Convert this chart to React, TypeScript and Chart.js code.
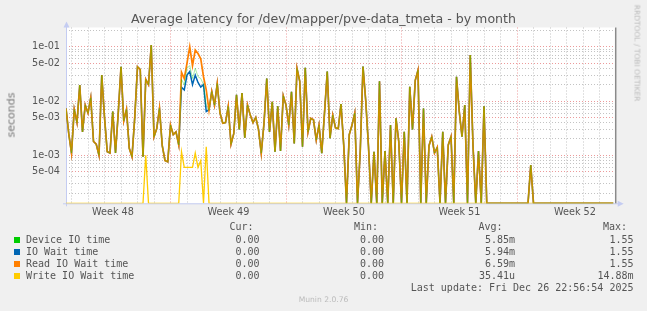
import React, { useEffect, useRef } from 'react';
import { Chart, registerables } from 'chart.js';

Chart.register(...registerables);

// ---- data (milliseconds, one sample every 4 hours) ----
const startDay = -6.345; // days relative to Mon 1 Dec (start of Week 49)
const stepDay = 1 / 6;

const readMs = [
  7.3, 2.5, 1.1, 7, 4, 19.7, 2.7, 8.4, 6, 11.5,
  1.8, 1.6, 1.0, 30, 5, 1.16, 1.1, 6.4, 1.1, 6,
  42.8, 4.3, 7, 1.35, 0.94, 5, 42.8, 38, 0.94, 25,
  20, 107, 2.2, 3.1, 7.3, 1.5, 0.8, 0.76, 3.6, 2.4,
  2.7, 1.55, 34, 26, 50, 100, 45, 87, 75, 60,
  28, 16, 6.8, 15, 8.4, 21, 6, 3.9, 4, 8,
  1.6, 2.5, 13, 3, 14, 2.1, 8.4, 5.5, 4, 5,
  3, 1.09, 3.9, 26, 2.7, 9.7, 1.16, 8, 1.2, 12.5,
  8.4, 3.6, 14.8, 1.66, 40, 23, 1.44, 41, 2.7, 4.8,
  4.5, 1.9, 3.6, 1.09, 6, 35, 2.06, 5.5, 3.2, 3.1,
  8.8, 1.5, 0, 2.4, 3.6, 6, 0, 1.2, 43, 10,
  1.44, 0, 1.16, 0, 23, 0, 1.2, 0, 3.6, 0,
  4.8, 1.8, 0, 2.7, 0, 18.3, 3, 24, 37, 0,
  7.3, 0, 1.5, 2.2, 1.1, 1.4, 0, 2.7, 0, 1.55,
  2.2, 0, 28, 6.4, 2.2, 8.4, 0, 70, 1.5, 0,
  1.2, 0, 8, 0, 0, 0, 0, 0, 0, 0,
  0, 0, 0, 0, 0, 0, 0, 0, 0, 0.66,
  0, 0, 0, 0, 0, 0, 0, 0, 0, 0,
  0, 0, 0, 0, 0, 0, 0, 0, 0, 0,
  0, 0, 0, 0, 0, 0, 0, 0, 0, 0,
];

// where IO wait and device time split off from read wait (samples 42..51)
const ioWaitBurst = [18, 16, 30, 35, 20, 30, 22, 18, 20, 6.4];
const deviceBurst = [25, 20, 40, 45, 26, 40, 28, 26, 20, 8];
const ioWaitMs = [...readMs.slice(0, 42), ...ioWaitBurst, ...readMs.slice(52)];
const deviceMs = [...readMs.slice(0, 42), ...deviceBurst, ...readMs.slice(52)];

const writeMs = [
  0, 0, 0, 0, 0, 0, 0, 0, 0, 0, 0, 0, 0, 0, 0, 0, 0, 0, 0, 0,
  0, 0, 0, 0, 0, 0, 0, 0, 0, 1.0, 0, 0, 0, 0, 0, 0, 0, 0, 0, 0,
  0, 0, 1.16, 0.6, 0.6, 0.6, 0.6, 1.1, 0.6, 0.8, 0, 1.44, 0, 0, 0, 0, 0, 0, 0, 0,
  0, 0, 0, 0, 0, 0, 0, 0, 0, 0, 0, 0, 0, 0, 0, 0, 0, 0, 0, 0,
  0, 0, 0, 0, 0, 0, 0, 0, 0, 0, 0, 0, 0, 0, 0, 0, 0, 0, 0, 0,
  0, 0, 0, 0, 0, 0, 0, 0, 0, 0, 0, 0, 0, 0, 0, 0, 0, 0, 0, 0,
  0, 0, 0, 0, 0, 0, 0, 0, 0, 0, 0, 0, 0, 0, 0, 0, 0, 0, 0, 0,
  0, 0, 0, 0, 0, 0, 0, 0, 0, 0, 0, 0, 0, 0, 0, 0, 0, 0, 0, 0,
  0, 0, 0, 0, 0, 0, 0, 0, 0, 0, 0, 0, 0, 0, 0, 0, 0, 0, 0, 0,
  0, 0, 0, 0, 0, 0, 0, 0, 0, 0, 0, 0, 0, 0, 0, 0, 0, 0, 0, 0,
];

const weekLabels = ['Week 48', 'Week 49', 'Week 50', 'Week 51', 'Week 52'];
const weekStartDays = [-7, 0, 7, 14, 21];

const seriesNames = ['Device IO time', 'IO Wait time', 'Read IO Wait time', 'Write IO Wait time'];
const seriesColors = ['#00CC00', '#0066B3', '#FF8000', '#FFCC00'];
const curVals = ['0.00', '0.00', '0.00', '0.00'];
const minVals = ['0.00', '0.00', '0.00', '0.00'];
const avgVals = ['5.85m', '5.94m', '6.59m', '35.41u'];
const maxVals = ['1.55', '1.55', '1.55', '14.88m'];

const titleText = 'Average latency for /dev/mapper/pve-data_tmeta - by month';
const lastUpdate = 'Last update: Fri Dec 26 22:56:54 2025';

// ---- layout ----
const W = 647;
const H = 311;
const xMin = -6.345;
const xMax = 26.97;
const yMin = 1.306e-4;
const yMax = 0.226;

const toPoints = (ms: number[]) =>
  ms.map((v, i) => ({ x: startDay + i * stepDay, y: v === 0 ? yMin : v / 1000 }));

const fmtExp = (v: number) => {
  const e = Math.floor(Math.log10(v) + 1e-9);
  const m = Math.round(v / Math.pow(10, e));
  return `${m}e-${String(-e).padStart(2, '0')}`;
};
const mantissa = (v: number) => {
  const e = Math.floor(Math.log10(v) + 1e-9);
  return Math.round(v / Math.pow(10, e));
};

const framePlugin = {
  id: 'frame',
  beforeDraw(chart: any) {
    const { ctx, chartArea: a } = chart;
    ctx.save();
    ctx.fillStyle = '#ffffff';
    ctx.fillRect(a.left, a.top, a.right - a.left, a.bottom - a.top);
    ctx.restore();
  },
  beforeDatasetsDraw(chart: any) {
    const { ctx, chartArea: a } = chart;
    ctx.save();
    ctx.strokeStyle = '#c4ccf2';
    ctx.fillStyle = '#c4ccf2';
    ctx.lineWidth = 1;
    ctx.beginPath();
    ctx.moveTo(a.left + 0.5, a.bottom + 3);
    ctx.lineTo(a.left + 0.5, a.top - 2);
    ctx.moveTo(a.left - 3, a.bottom + 0.5);
    ctx.lineTo(a.right + 3, a.bottom + 0.5);
    ctx.stroke();
    ctx.beginPath();
    ctx.moveTo(a.left + 0.5, a.top - 6);
    ctx.lineTo(a.left - 2.5, a.top);
    ctx.lineTo(a.left + 3.5, a.top);
    ctx.closePath();
    ctx.fill();
    ctx.beginPath();
    ctx.moveTo(a.right + 8, a.bottom + 0.5);
    ctx.lineTo(a.right + 2, a.bottom - 2.5);
    ctx.lineTo(a.right + 2, a.bottom + 3.5);
    ctx.closePath();
    ctx.fill();
    ctx.restore();
  },
  afterDraw(chart: any) {
    const { ctx, chartArea: a } = chart;
    ctx.save();
    ctx.strokeStyle = '#8a8a8a';
    ctx.lineWidth = 1.5;
    ctx.beginPath();
    ctx.moveTo(a.right, a.top);
    ctx.lineTo(a.right, a.bottom);
    ctx.stroke();
    ctx.restore();
  },
};

export default function App() {
  const ref = useRef<HTMLCanvasElement>(null);

  useEffect(() => {
    if (!ref.current) return;
    const chart = new Chart(ref.current, {
      type: 'line',
      data: {
        datasets: [
          { label: seriesNames[3], data: toPoints(writeMs), borderColor: seriesColors[3], borderWidth: 1.3 },
          { label: seriesNames[0], data: toPoints(deviceMs), borderColor: 'rgba(0,204,0,0.35)', borderWidth: 1.0 },
          { label: seriesNames[2], data: toPoints(readMs), borderColor: seriesColors[2], borderWidth: 1.7 },
          { label: seriesNames[1], data: toPoints(ioWaitMs), borderColor: seriesColors[1], borderWidth: 1.5 },
        ],
      },
      options: {
        responsive: false,
        animation: false,
        devicePixelRatio: 1,
        events: [],
        elements: { point: { radius: 0 }, line: { tension: 0 } },
        layout: { padding: { left: 0, right: 31.3, top: 27.5, bottom: 87.7 } },
        plugins: { legend: { display: false }, title: { display: false }, tooltip: { enabled: false } },
        scales: {
          x: {
            type: 'linear',
            min: xMin,
            max: xMax,
            bounds: 'data',
            afterFit: (s: any) => { s.height = 20; },
            afterBuildTicks: (s: any) => {
              const t: any[] = [];
              for (let d = Math.ceil(xMin); d <= Math.floor(xMax); d++) t.push({ value: d });
              weekStartDays.forEach((w) => {
                const c = w + 3.5;
                if (c > xMin && c < xMax) t.push({ value: c });
              });
              s.ticks = t;
            },
            ticks: {
              autoSkip: false,
              maxRotation: 0,
              padding: 3,
              color: '#555',
              font: { family: '"DejaVu Sans"', size: 9.7 },
              callback: (v: any) => {
                const idx = weekStartDays.findIndex((w) => Math.abs(w + 3.5 - v) < 1e-6);
                return idx >= 0 ? weekLabels[idx] : '';
              },
            },
            grid: {
              drawTicks: false,
              lineWidth: 1,
              color: (c: any) => {
                const v = c.tick ? c.tick.value : 0;
                if (Math.abs(v - Math.round(v)) > 1e-6) return 'rgba(0,0,0,0)';
                return Math.round(v) % 7 === 0 ? 'rgba(230,120,120,0.75)' : 'rgba(175,175,175,0.75)';
              },
            },
            border: { display: false, dash: [1, 2] },
          },
          y: {
            type: 'logarithmic',
            min: yMin,
            max: yMax,
            bounds: 'data',
            afterFit: (s: any) => { s.width = 66; },
            afterBuildTicks: (s: any) => {
              const t: any[] = [];
              for (let e = -5; e <= 0; e++) {
                for (let m = 1; m <= 9; m++) {
                  const v = m * Math.pow(10, e);
                  if (v >= yMin && v <= yMax) t.push({ value: v });
                }
              }
              s.ticks = t;
            },
            ticks: {
              autoSkip: false,
              padding: 6,
              color: '#555',
              font: { family: '"DejaVu Sans"', size: 9.7 },
              callback: (v: any) => {
                const m = mantissa(Number(v));
                return m === 1 || m === 5 ? fmtExp(Number(v)) : '';
              },
            },
            grid: {
              drawTicks: false,
              lineWidth: 1,
              color: (c: any) => {
                const v = c.tick ? c.tick.value : 1;
                const m = mantissa(v);
                return m === 1 || m === 5 ? 'rgba(230,120,120,0.75)' : 'rgba(175,175,175,0.75)';
              },
            },
            border: { display: false, dash: [1, 2] },
          },
        },
      },
      plugins: [framePlugin],
    } as any);
    return () => chart.destroy();
  }, []);

  const mono = '"DejaVu Sans Mono", monospace';
  const textColor = '#555';
  const rowY = [239.7, 251.7, 263.7, 275.7];
  const colRight = [259.5, 384, 515, 633.5];
  const headRight = [253.5, 378, 502.5, 627];
  const heads = ['Cur:', 'Min:', 'Avg:', 'Max:'];
  const cols = [curVals, minVals, avgVals, maxVals];

  const txt = (key: string, s: string, cy: number, style: any) => (
    <div
      key={key}
      style={{
        position: 'absolute',
        top: cy - 6,
        height: 12,
        lineHeight: '12px',
        whiteSpace: 'pre',
        fontFamily: mono,
        fontSize: 10,
        color: textColor,
        ...style,
      }}
    >
      {s}
    </div>
  );

  return (
    <div
      style={{
        position: 'absolute',
        left: 0,
        top: 0,
        width: W,
        height: H,
        background: '#f0f0f0',
        overflow: 'hidden',
        fontFamily: '"DejaVu Sans", sans-serif',
      }}
    >
      <canvas ref={ref} width={W} height={H} style={{ position: 'absolute', left: 0, top: 0, width: W, height: H }} />
      <div
        style={{
          position: 'absolute',
          left: 0,
          width: W,
          top: 10.5,
          lineHeight: '15px',
          textAlign: 'center',
          fontSize: 12.6,
          color: '#555',
          whiteSpace: 'nowrap',
        }}
      >
        {titleText}
      </div>
      <div
        style={{
          position: 'absolute',
          left: 11,
          top: 115,
          transform: 'translate(-50%, -50%) rotate(-90deg)',
          fontSize: 11,
          color: '#777',
          fontWeight: 'normal',
          whiteSpace: 'nowrap',
          lineHeight: '13px',
        }}
      >
        seconds
      </div>
      <div
        style={{
          position: 'absolute',
          left: 637,
          top: 53,
          transform: 'translate(-50%, -50%) rotate(90deg)',
          fontSize: 7.5,
          color: '#bbb',
          whiteSpace: 'nowrap',
          lineHeight: '9px',
        }}
      >
        RRDTOOL / TOBI OETIKER
      </div>
      {heads.map((h, j) => txt('h' + j, h, 227.3, { right: W - headRight[j] }))}
      {seriesNames.map((n, i) => (
        <React.Fragment key={'r' + i}>
          <div
            style={{
              position: 'absolute',
              left: 14,
              top: rowY[i] - 3,
              width: 6,
              height: 6,
              background: seriesColors[i],
            }}
          />
          {txt('n' + i, n, rowY[i], { left: 26 })}
          {cols.map((c, j) => txt('v' + i + '_' + j, c[i], rowY[i], { right: W - colRight[j] }))}
        </React.Fragment>
      ))}
      {txt('lu', lastUpdate, 287.7, { right: W - 633.5 })}
      <div
        style={{
          position: 'absolute',
          left: 0,
          width: W,
          top: 295,
          lineHeight: '10px',
          textAlign: 'center',
          fontSize: 7.6,
          color: '#bbb',
          whiteSpace: 'nowrap',
        }}
      >
        Munin 2.0.76
      </div>
    </div>
  );
}
